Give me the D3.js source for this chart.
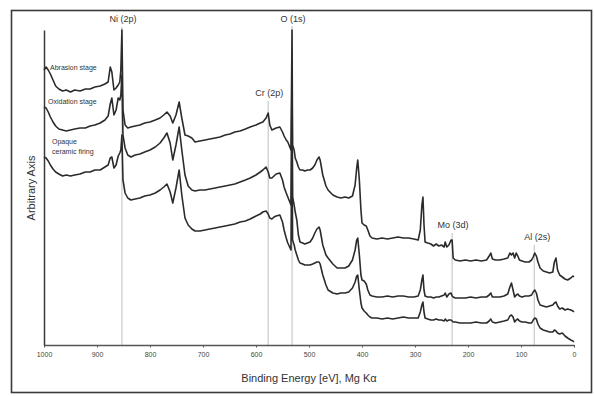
<!DOCTYPE html>
<html>
<head>
<meta charset="utf-8">
<script src="https://cdn.jsdelivr.net/npm/d3@7"></script>
<style>
  body { margin: 0; background: #fff; }
  svg { display: block; font-family: "Liberation Sans", Arial, sans-serif; }
</style>
</head>
<body>
<div id="chart"></div>
<script>
// binding energy grid (eV), shared by the three spectra
const energy = [
  1000, 996, 992, 988, 983, 978, 972, 965, 958, 950,
  942, 932, 922, 913, 904, 894, 885, 879, 875, 872,
  868, 864, 860, 857, 855, 853, 851, 847, 842, 836,
  828, 819, 810, 800, 790, 781, 774, 768, 762, 757,
  751, 745, 740, 734, 728, 721, 715, 706, 696, 687,
  677, 668, 658, 649, 640, 630, 620, 611, 600, 592,
  587, 581, 577, 574, 570, 566, 562, 555, 550, 547,
  543, 540, 534, 532, 531, 528, 526, 523, 520, 517,
  512, 508, 503, 498, 493, 489, 485, 481, 479, 474,
  468, 464, 455, 447, 440, 432, 425, 418, 413, 410,
  408, 405, 402, 400, 396, 392, 389, 385, 381, 372,
  362, 352, 342, 332, 322, 312, 302, 294, 290, 287,
  285, 283, 281, 276, 270, 265, 260, 255, 250, 245,
  243, 240, 236, 232, 230, 228, 224, 215, 205, 195,
  185, 175, 165, 160, 157, 154, 148, 140, 132, 125,
  121, 118, 115, 112, 109, 106, 103, 98, 92, 85,
  80, 77, 74, 71, 68, 64, 58, 52, 46, 40,
  37, 34, 31, 27, 22, 17, 12, 6, 2, 0
];

// intensities (arbitrary units, stacked offsets included)
const abrasion = [
  275, 278, 275, 271, 265, 259, 256, 254, 255, 253,
  255, 254, 256, 256, 258, 259, 261, 263, 278, 273,
  255, 257, 260, 263, 275, 315, 235, 220, 217, 218,
  219, 220, 222, 223, 225, 227, 230, 233, 229, 222,
  230, 243, 227, 210, 209, 207, 203, 204, 205, 206,
  207, 208, 210, 211, 213, 214, 216, 218, 220, 222,
  223, 227, 232, 220, 215, 216, 217, 218, 213, 209,
  205, 203, 195, 315, 200, 195, 187, 183, 178, 175,
  175, 174, 175, 175, 177, 180, 185, 188, 185, 170,
  159, 155, 150, 148, 147, 148, 147, 149, 160, 177,
  185, 165, 135, 122, 120, 119, 115, 109, 107, 106,
  107, 106, 107, 108, 107, 107, 106, 105, 115, 140,
  148, 120, 103, 102, 101, 99, 101, 99, 100, 98,
  103, 98, 100, 105, 105, 87, 85, 84, 85, 84,
  85, 84, 85, 89, 92, 86, 85, 85, 86, 87,
  92, 90, 92, 87, 92, 89, 85, 84, 83, 83,
  85, 88, 92, 89, 83, 77, 74, 73, 72, 73,
  83, 87, 75, 70, 68, 66, 65, 67, 69, 68
];

const oxidation = [
  238, 237, 233, 228, 223, 219, 216, 215, 214, 215,
  216, 217, 217, 219, 220, 222, 225, 229, 241, 247,
  230, 235, 247, 245, 250, 270, 210, 197, 190, 188,
  190, 191, 193, 195, 198, 202, 207, 212, 202, 185,
  200, 218, 195, 170, 159, 155, 154, 155, 155, 156,
  157, 158, 159, 160, 161, 163, 165, 167, 170, 173,
  175, 178, 173, 167, 167, 169, 171, 172, 165, 158,
  152, 148, 140, 275, 148, 140, 133, 125, 110, 103,
  102, 101, 102, 103, 107, 112, 116, 118, 115, 100,
  90, 87, 81, 77, 77, 77, 79, 85, 95, 105,
  107, 90, 70, 65, 64, 61, 55, 50, 49, 48,
  48, 49, 48, 49, 49, 48, 48, 49, 55, 65,
  70, 55, 49, 48, 48, 47, 48, 48, 49, 50,
  52, 48, 51, 52, 49, 48, 47, 47, 47, 48,
  47, 48, 48, 50, 52, 48, 48, 48, 49, 51,
  58, 62, 55, 48, 50, 51, 49, 48, 49, 49,
  50, 53, 55, 52, 45, 40, 39, 38, 39, 40,
  42, 43, 39, 36, 37, 35, 36, 35, 34, 33
];

const opaque = [
  188, 187, 184, 180, 176, 173, 171, 169, 170, 169,
  170, 171, 173, 173, 175, 175, 178, 180, 187, 188,
  177, 180, 189, 192, 195, 210, 165, 152, 147, 145,
  146, 147, 149, 150, 152, 155, 158, 161, 153, 142,
  157, 175, 150, 127, 120, 116, 114, 114, 115, 116,
  117, 118, 119, 120, 121, 123, 124, 126, 129, 131,
  133, 134, 131, 127, 126, 128, 129, 130, 123, 115,
  107, 102, 95, 235, 105, 100, 95, 90, 85, 82,
  81, 80, 80, 80, 81, 82, 83, 83, 81, 70,
  60, 55, 52, 51, 52, 52, 53, 57, 63, 69,
  70, 55, 42, 37, 34, 32, 30, 28, 27, 27,
  26, 27, 26, 27, 28, 27, 27, 27, 33, 40,
  43, 33, 27, 26, 25, 25, 26, 25, 25, 24,
  26, 24, 25, 25, 24, 23, 23, 22, 22, 22,
  23, 22, 22, 24, 26, 23, 22, 23, 24, 25,
  29, 30, 28, 23, 25, 26, 24, 23, 23, 22,
  22, 25, 27, 26, 21, 17, 15, 14, 13, 13,
  15, 14, 12, 11, 12, 9, 7, 5, 4, 3
];

const seriesNames = ['Abrasion stage', 'Oxidation stage', 'Opaque ceramic firing'];

// reference peaks
const peakNames = ['Ni (2p)', 'Cr (2p)', 'O (1s)', 'Mo (3d)', 'Al (2s)'];
const peakEnergy = [853, 577, 532, 230, 75];

const xTicks = [1000, 900, 800, 700, 600, 500, 400, 300, 200, 100, 0];

const width = 594, height = 396;
const margin = { top: 30, right: 20, bottom: 51, left: 44 };

const svg = d3.select('#chart').append('svg')
  .attr('width', width)
  .attr('height', height);

// outer frame
svg.append('rect')
  .attr('x', 11.5).attr('y', 10.5)
  .attr('width', 580).attr('height', 382)
  .attr('fill', '#fff')
  .attr('stroke', '#3a3a3a')
  .attr('stroke-width', 1.6);

const x = d3.scaleLinear()
  .domain([1000, 0])
  .range([margin.left, width - margin.right]);

const y = d3.scaleLinear()
  .domain([0, 315])
  .range([height - margin.bottom, margin.top]);

// peak reference lines + labels
const labelPos = [
  { ly: 22, top: 27 },   // Ni
  { ly: 96, top: 101 },  // Cr
  { ly: 22, top: 26 },   // O
  { ly: 228, top: 233 }, // Mo
  { ly: 240, top: 245 }  // Al
];

const peaks = svg.append('g');
peakEnergy.forEach((e, i) => {
  peaks.append('line')
    .attr('x1', x(e)).attr('x2', x(e))
    .attr('y1', labelPos[i].top).attr('y2', y(0))
    .attr('stroke', '#c4c4c4')
    .attr('stroke-width', 1.1);
  peaks.append('text')
    .attr('x', x(e) + (i === 4 ? 3 : 1))
    .attr('y', labelPos[i].ly)
    .attr('text-anchor', 'middle')
    .style('font-size', '9px')
    .attr('fill', '#333')
    .text(peakNames[i]);
});

// axes
svg.append('g')
  .attr('transform', `translate(0,${y(0)})`)
  .call(d3.axisBottom(x).tickValues(xTicks).tickFormat(d3.format('d')).tickSize(2.5).tickSizeOuter(0).tickPadding(5))
  .call(g => g.select('.domain').attr('stroke', '#555').attr('stroke-width', 1.4))
  .call(g => g.selectAll('.tick line').attr('stroke', '#555'))
  .call(g => g.selectAll('.tick text').attr('fill', '#444').style('font-size', '7px').attr('font-family', 'Liberation Sans, Arial, sans-serif'));

svg.append('g')
  .attr('transform', `translate(${x(1000)},0)`)
  .call(d3.axisLeft(y).tickValues([]).tickSizeOuter(0))
  .call(g => g.select('.domain').attr('stroke', '#3a3a3a').attr('stroke-width', 1.5));

// spectra
const line = d3.line()
  .x((d, i) => x(energy[i]))
  .y(d => y(d));

svg.append('g')
  .selectAll('path')
  .data([abrasion, oxidation, opaque])
  .join('path')
  .attr('d', line)
  .attr('fill', 'none')
  .attr('stroke', '#2b2b2b')
  .attr('stroke-width', 1.6)
  .attr('stroke-linejoin', 'round');

// series labels
const seriesLabel = svg.append('g')
  .style('font-size', '7px')
  .attr('fill', '#333');
seriesLabel.append('text').attr('x', 50).attr('y', 69.5).text(seriesNames[0]);
seriesLabel.append('text').attr('x', 48).attr('y', 103.5).text(seriesNames[1]);
seriesLabel.append('text').attr('x', 52).attr('y', 143.5).text('Opaque');
seriesLabel.append('text').attr('x', 52).attr('y', 153.5).text('ceramic firing');

// axis titles
svg.append('text')
  .attr('x', 309)
  .attr('y', 382)
  .attr('text-anchor', 'middle')
  .style('font-size', '11px')
  .attr('fill', '#333')
  .text('Binding Energy [eV], Mg K\u03B1');

svg.append('text')
  .attr('transform', 'translate(35,188) rotate(-90)')
  .attr('text-anchor', 'middle')
  .style('font-size', '11px')
  .attr('fill', '#333')
  .text('Arbitrary Axis');
</script>
</body>
</html>
